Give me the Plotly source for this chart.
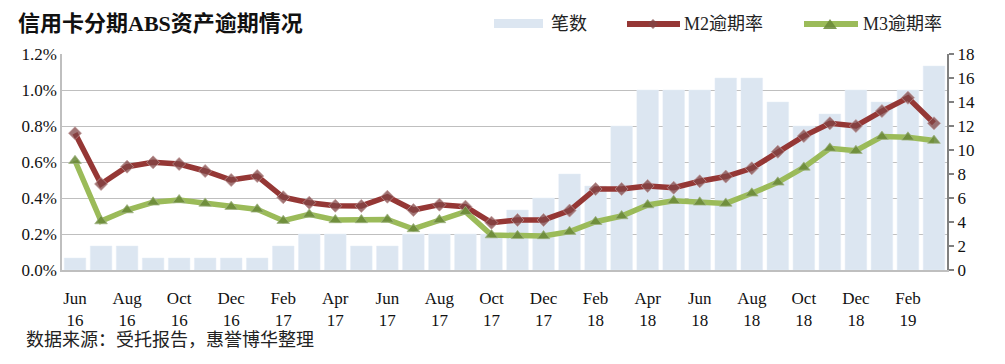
import plotly.graph_objects as go

months = ["Jun 16", "Jul 16", "Aug 16", "Sep 16", "Oct 16", "Nov 16", "Dec 16",
          "Jan 17", "Feb 17", "Mar 17", "Apr 17", "May 17", "Jun 17", "Jul 17",
          "Aug 17", "Sep 17", "Oct 17", "Nov 17", "Dec 17",
          "Jan 18", "Feb 18", "Mar 18", "Apr 18", "May 18", "Jun 18", "Jul 18",
          "Aug 18", "Sep 18", "Oct 18", "Nov 18", "Dec 18",
          "Jan 19", "Feb 19", "Mar 19"]
counts = [1, 2, 2, 1, 1, 1, 1, 1, 2, 3, 3, 2, 2, 3, 3, 3, 3, 5, 6,
          8, 7, 12, 15, 15, 15, 16, 16, 14, 12, 13, 15, 14, 15, 17]
m2 = [0.76, 0.478, 0.574, 0.598, 0.589, 0.55, 0.50, 0.522, 0.404, 0.374, 0.357,
      0.356, 0.407, 0.333, 0.363, 0.352, 0.263, 0.278, 0.278, 0.33, 0.45, 0.45,
      0.467, 0.457, 0.493, 0.519, 0.565, 0.657, 0.744, 0.815, 0.80, 0.883, 0.957, 0.815]
m3 = [0.607, 0.272, 0.333, 0.376, 0.389, 0.37, 0.352, 0.337, 0.274, 0.309, 0.278,
      0.278, 0.281, 0.228, 0.278, 0.324, 0.194, 0.19, 0.189, 0.213, 0.268, 0.30,
      0.361, 0.385, 0.376, 0.37, 0.426, 0.487, 0.57, 0.676, 0.663, 0.741, 0.737, 0.719]
tick_months = months[::2]
tick_text = [m.replace(" ", "<br>") for m in tick_months]

title = "信用卡分期ABS资产逾期情况"
source = "数据来源：受托报告，惠誉博华整理"
names = ["笔数", "M2逾期率", "M3逾期率"]

FONT = "Liberation Serif, Noto Sans CJK SC, serif"
BAR_C = "#DCE6F1"
M2_C = "#953735"
M3_C = "#9BBB59"

W, H = 1005, 364
L, R, T, B = 62, 947, 54, 270


def X(px):
    return (px - L) / (R - L)


def Y(py):
    return (B - py) / (B - T)


fig = go.Figure()
fig.add_trace(go.Bar(x=months, y=counts, name=names[0], marker_color=BAR_C,
                     yaxis="y", showlegend=False))
fig.add_trace(go.Scatter(x=months, y=m2, name=names[1], mode="lines+markers",
                         line=dict(color=M2_C, width=5.5),
                         marker=dict(symbol="diamond", size=10,
                                     color="rgba(130,70,70,0.75)",
                                     line=dict(width=1, color="rgba(190,150,150,0.7)")),
                         yaxis="y2", showlegend=False, cliponaxis=False))
fig.add_trace(go.Scatter(x=months, y=m3, name=names[2], mode="lines+markers",
                         line=dict(color=M3_C, width=5.5),
                         marker=dict(symbol="triangle-up", size=11,
                                     color="rgba(105,135,55,0.85)",
                                     line=dict(width=1, color="rgba(160,180,130,0.7)")),
                         yaxis="y2", showlegend=False, cliponaxis=False))

shapes = []
annotations = []
# manual legend
shapes.append(dict(type="rect", xref="paper", yref="paper",
                   x0=X(494), x1=X(543), y0=Y(28), y1=Y(19),
                   fillcolor=BAR_C, line=dict(width=0)))
annotations.append(dict(text=names[0], xref="paper", yref="paper", x=X(549), y=Y(24),
                        xanchor="left", yanchor="middle", showarrow=False,
                        font=dict(size=18, color="#222")))
shapes.append(dict(type="line", xref="paper", yref="paper",
                   x0=X(627), x1=X(680), y0=Y(24), y1=Y(24),
                   line=dict(color=M2_C, width=6)))
shapes.append(dict(type="path", xref="paper", yref="paper",
                   path=f"M {X(653)},{Y(19)} L {X(658)},{Y(24)} L {X(653)},{Y(29)} L {X(648)},{Y(24)} Z",
                   fillcolor="rgba(130,70,70,0.75)", line=dict(width=0)))
annotations.append(dict(text=names[1], xref="paper", yref="paper", x=X(682), y=Y(24),
                        xanchor="left", yanchor="middle", showarrow=False,
                        font=dict(size=18, color="#222")))
shapes.append(dict(type="line", xref="paper", yref="paper",
                   x0=X(804), x1=X(858), y0=Y(24), y1=Y(24),
                   line=dict(color=M3_C, width=6)))
shapes.append(dict(type="path", xref="paper", yref="paper",
                   path=f"M {X(830)},{Y(19)} L {X(837)},{Y(29)} L {X(823)},{Y(29)} Z",
                   fillcolor="rgba(105,135,55,0.85)", line=dict(width=0)))
annotations.append(dict(text=names[2], xref="paper", yref="paper", x=X(861), y=Y(24),
                        xanchor="left", yanchor="middle", showarrow=False,
                        font=dict(size=18, color="#222")))
annotations.append(dict(text=source, xref="paper", yref="paper", x=X(24), y=Y(340),
                        xanchor="left", yanchor="middle", showarrow=False,
                        font=dict(size=18, color="#222")))

fig.update_layout(
    width=W, height=H, autosize=False,
    margin=dict(l=L, r=W - R, t=T, b=H - B, autoexpand=False),
    paper_bgcolor="white", plot_bgcolor="white",
    font=dict(family=FONT, size=17, color="#111"),
    title=dict(text=f"<b>{title}</b>", x=18 / W, xanchor="left", xref="container",
               y=1 - 23 / H, yanchor="middle", yref="container",
               font=dict(size=22, color="#111")),
    bargap=0.17,
    xaxis=dict(type="category", tickvals=tick_months, ticktext=tick_text,
               range=[-0.5, len(months) - 0.5], automargin=False,
               showline=True, linecolor="#BFBFBF", linewidth=1.5,
               showgrid=False, ticks="", tickfont=dict(size=17),
               ticklabelstandoff=12),
    yaxis=dict(side="right", range=[0, 18], dtick=2, showgrid=False,
               showline=True, linecolor="#808080", linewidth=2, automargin=False,
               ticks="outside", ticklen=5, tickwidth=2, tickcolor="#808080",
               zeroline=False, tickfont=dict(size=17)),
    yaxis2=dict(side="left", overlaying="y", range=[0, 1.2], dtick=0.2,
                tickformat=".1f", ticksuffix="%", showgrid=True, automargin=False,
                gridcolor="#BFBFBF", gridwidth=1, showline=True,
                linecolor="#BFBFBF", linewidth=1.5, zeroline=False,
                ticks="", tickfont=dict(size=17)),
    shapes=shapes, annotations=annotations,
)

fig.write_html("out.html", config={"responsive": False, "displayModeBar": False},
               post_script="document.body.style.margin='0';document.body.style.overflow='hidden';")
